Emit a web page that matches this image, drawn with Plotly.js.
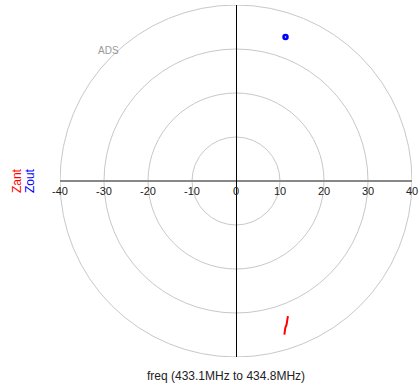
<!DOCTYPE html>
<html><head><meta charset="utf-8">
<script src="https://cdn.plot.ly/plotly-3.0.1.min.js"></script>
<style>html,body{margin:0;padding:0;background:#fff}#c{width:419px;height:392px}</style>
</head><body><div id="c"></div>
<script>
const rings = [10, 20, 30, 40];
const tickVals = [-40, -30, -20, -10, 0, 10, 20, 30, 40];
const tickText = ['-40', '-30', '-20', '-10', '0', '10', '20', '30', '40'];
const zoutX = [11.25];
const zoutY = [32.7];
const zantX = [11.8, 11.5, 11.2, 11.0];
const zantY = [-30.7, -32.6, -33.4, -34.9];
const titleText = 'freq (433.1MHz to 434.8MHz)';

const shapes = rings.map(r => ({
  type: 'circle', xref: 'x', yref: 'y', x0: -r, x1: r, y0: -r, y1: r,
  line: {color: '#c8c8c8', width: 1}, layer: 'below'
}));

const data = [
  {x: zantX, y: zantY, mode: 'lines', line: {color: '#ff0000', width: 2}, hoverinfo: 'skip'},
  {x: zoutX, y: zoutY, mode: 'markers', marker: {symbol: 'circle-open', size: 4, color: '#0000ff', line: {width: 2.5, color: '#0000ff'}}, hoverinfo: 'skip'}
];

const layout = {
  width: 419, height: 392,
  margin: {l: 60, r: 7, t: 5, b: 35, pad: 0},
  paper_bgcolor: '#fff', plot_bgcolor: '#fff',
  showlegend: false,
  font: {family: 'Liberation Sans, Arial, sans-serif', size: 11, color: '#222'},
  xaxis: {range: [-40, 40], anchor: 'free', position: 0.5, showgrid: false, zeroline: false,
    showline: true, linecolor: '#888', linewidth: 2, tickmode: 'array', tickvals: tickVals, ticktext: tickText,
    ticks: '', ticklen: 0, tickfont: {size: 11, color: '#222'}, fixedrange: true},
  yaxis: {range: [-40, 40], anchor: 'free', position: 0.5, showgrid: false, zeroline: false,
    showline: true, linecolor: '#000', linewidth: 1, showticklabels: false, ticks: '', fixedrange: true},
  shapes: shapes,
  annotations: [
    {xref: 'paper', yref: 'paper', x: 0.102, y: 0.892, text: 'ADS', showarrow: false, font: {size: 10, color: '#999'}},
    {xref: 'paper', yref: 'paper', x: -0.122, y: 0.5, text: 'Zant', textangle: -90, showarrow: false, font: {size: 12, color: '#ff0000'}, xanchor: 'center', yanchor: 'middle'},
    {xref: 'paper', yref: 'paper', x: -0.085, y: 0.5, text: 'Zout', textangle: -90, showarrow: false, font: {size: 12, color: '#0000ff'}, xanchor: 'center', yanchor: 'middle'},
    {xref: 'paper', yref: 'paper', x: 0.472, y: -0.054, text: titleText, showarrow: false, font: {size: 12, color: '#222'}, yanchor: 'middle'}
  ]
};
Plotly.newPlot('c', data, layout, {displayModeBar: false, staticPlot: true});
</script></body></html>
